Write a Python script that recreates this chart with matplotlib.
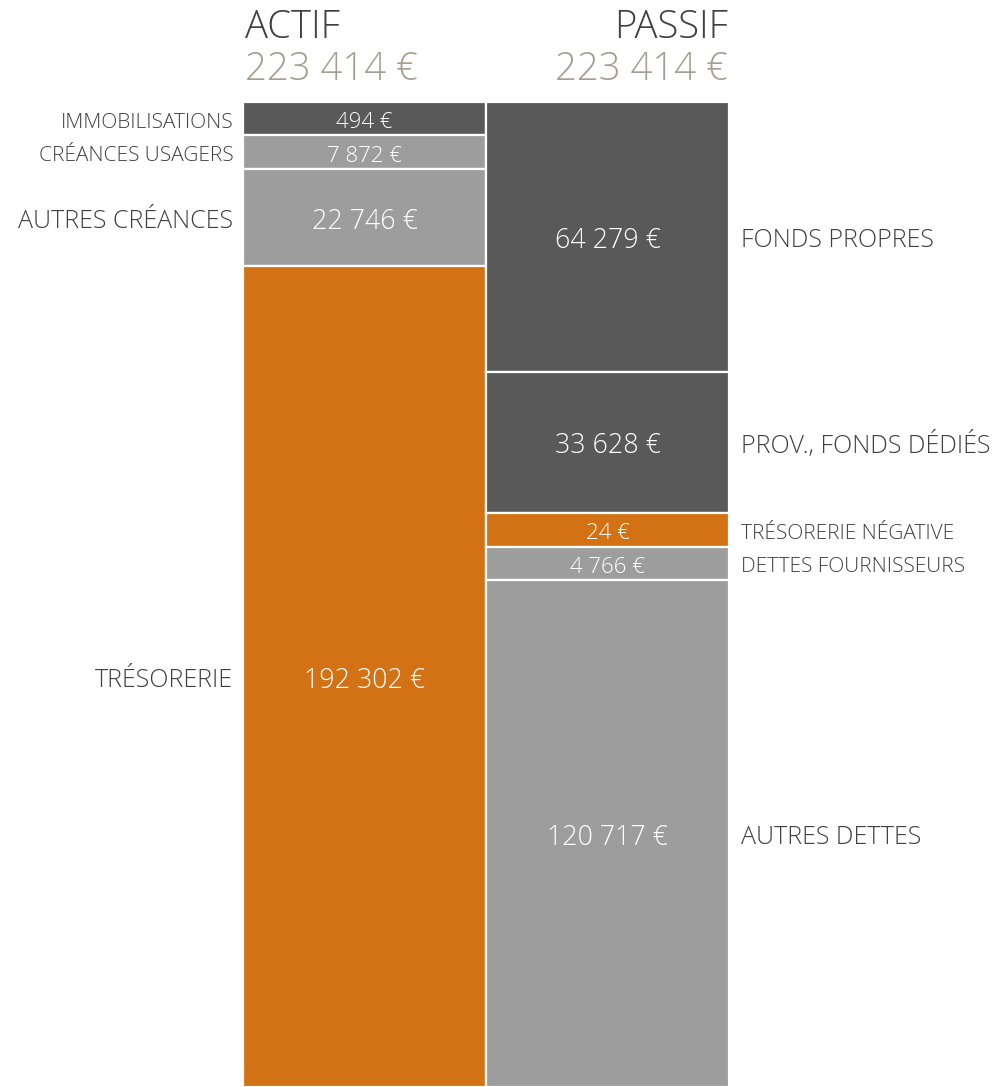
import matplotlib
matplotlib.use("Agg")
import matplotlib.pyplot as plt
from matplotlib.transforms import offset_copy

# ---- data ----
actif_labels = ["IMMOBILISATIONS", "CRÉANCES USAGERS", "AUTRES CRÉANCES", "TRÉSORERIE"]
actif_values = [494, 7872, 22746, 192302]
actif_kinds = ["dark", "light", "light", "orange"]

passif_labels = ["FONDS PROPRES", "PROV., FONDS DÉDIÉS", "TRÉSORERIE NÉGATIVE",
                 "DETTES FOURNISSEURS", "AUTRES DETTES"]
passif_values = [64279, 33628, 24, 4766, 120717]
passif_kinds = ["dark", "dark", "orange", "light", "light"]

column_titles = ["ACTIF", "PASSIF"]

COLORS = {"dark": "#595959", "light": "#9d9d9d", "orange": "#d37115"}
TXT = "#404040"
TOTAL_COL = "#a69e92"
MIN_SHARE = 0.034
SMALL_TEXT_SHARE = 0.05
FONT = ["Open Sans", "DejaVu Sans"]
CAP = 0.714


def fmt(v):
    return f"{v:,}".replace(",", " ") + " €"


def display_heights(values):
    total = sum(values)
    mn = MIN_SHARE * total
    small = [v < mn for v in values]
    rest = total - mn * sum(small)
    big_sum = sum(v for v, s in zip(values, small) if not s)
    return [mn if s else v * rest / big_sum for v, s in zip(values, small)], total


W, H = 1000, 1087
fig = plt.figure(figsize=(W / 100, H / 100), dpi=100)
x0, x1, ytop = 243, 729, 102
ax = fig.add_axes([x0 / W, 0, (x1 - x0) / W, (H - ytop) / H])
ax.set_xlim(0, 2)
ax.axis("off")


def ctext(x, y, s, fs, **kw):
    tr = offset_copy(ax.transData, fig=fig, y=-CAP * fs / 2 - 1, units="points")
    ax.text(x, y, s, fontsize=fs, va="baseline", transform=tr,
            family=FONT, fontweight="light", **kw)


for col, (labels, values, kinds) in enumerate(
        [(actif_labels, actif_values, actif_kinds),
         (passif_labels, passif_values, passif_kinds)]):
    heights, total = display_heights(values)
    ax.set_ylim(total, 0)
    bottom = 0
    for lab, v, k, h in zip(labels, values, kinds, heights):
        ax.bar(col + 0.5, h, bottom=bottom, width=1.0, color=COLORS[k],
               edgecolor="white", linewidth=1.6, align="center")
        yc = bottom + h / 2
        small = v < SMALL_TEXT_SHARE * total
        fs_v = 16 if small else 19.3
        fs_l = 15 if small else 18
        ctext(col + 0.5, yc, fmt(v), fs_v, color="white", ha="center")
        if col == 0:
            ctext(-0.04, yc, lab, fs_l, color=TXT, ha="right")
        else:
            ctext(2.05, yc, lab, fs_l, color=TXT, ha="left")
        bottom += h
    # titles
    fx = (x0 + 2) / W if col == 0 else (x1 - 1) / W
    ha = "left" if col == 0 else "right"
    fig.text(fx, 1 - 38 / H, column_titles[col], color=TXT, ha=ha, va="baseline",
             fontsize=27.5, family=FONT, fontweight="light")
    fig.text(fx, 1 - 80 / H, fmt(total), color=TOTAL_COL, ha=ha, va="baseline",
             fontsize=27.5, family=FONT, fontweight="light")

fig.savefig("out.png", dpi=100, facecolor="white")
